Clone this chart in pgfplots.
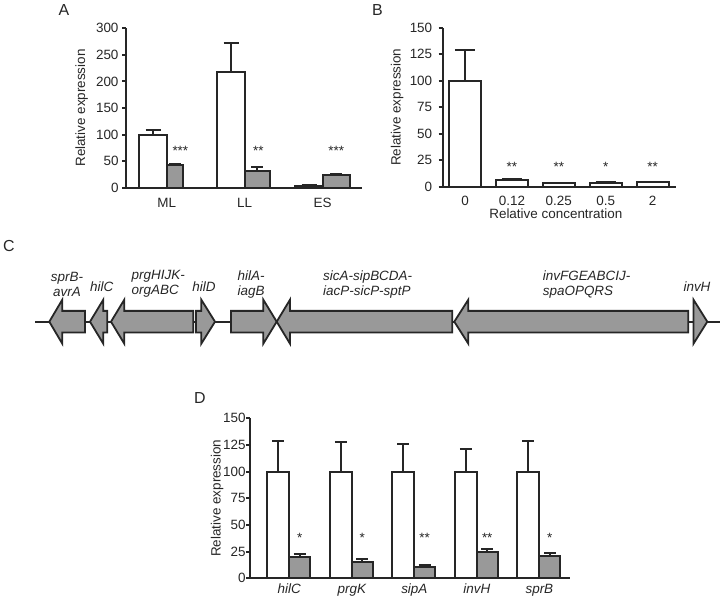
\documentclass[border=0pt]{standalone}
\usepackage{pgfplots}
\pgfplotsset{compat=1.18}
\usepackage{fontspec}
\setmainfont{Liberation Sans}
\definecolor{ink}{HTML}{262626}
\definecolor{barg}{HTML}{999999}
\newcommand{\lf}{\fontsize{13.5}{15}\selectfont}
\pgfplotsset{
  panel/.style={
    scale only axis,
    anchor=south west,
    axis lines=left,
    axis line style={-, ink, line width=1.9bp},
    tick align=outside,
    major tick length=4bp,
    ytick style={ink, line width=1.9bp},
    xtick style={draw=none},
    tick label style={font=\lf, text=ink},
    label style={font=\lf, text=ink},
    /pgf/number format/assume math mode=true,
    clip=false,
    ylabel={Relative expression},
  },
  wbar/.style={ybar, bar shift=0pt, fill=white, draw=ink, line width=1.9bp,
    error bars/y dir=plus, error bars/y explicit,
    error bars/error bar style={ink, line width=1.9bp},
    error bars/error mark options={rotate=90, ink, line width=1.9bp, mark size=#1}},
  gbar/.style={ybar, bar shift=0pt, fill=barg, draw=ink, line width=1.9bp,
    error bars/y dir=plus, error bars/y explicit,
    error bars/error bar style={ink, line width=1.9bp},
    error bars/error mark options={rotate=90, ink, line width=1.9bp, mark size=#1}},
  gene/.style={fill=barg, draw=ink, line width=1.8bp, line join=miter, mark=none},
}
\begin{document}
\begin{tikzpicture}[x=1bp,y=1bp]
\useasboundingbox (0,0) rectangle (720,600);

% ---------- Panel A ----------
\begin{axis}[panel, at={(126bp,412.3bp)}, width=236bp, height=159.4bp,
  xmin=-0.522, xmax=2.504, ymin=0, ymax=300,
  ytick={0,50,...,300}, xtick={0,1,2}, xticklabels={ML,LL,ES},
  xticklabel style={yshift=-3bp},
  ylabel style={at={(axis description cs:-0.188,0.5)}, anchor=center}]
\addplot[wbar=7.5bp, bar width=0.35] coordinates {(-0.175,100) +- (0,8.6) (0.825,218) +- (0,55) (1.825,3) +- (0,2)};
\addplot[gbar=6bp, bar width=0.214] coordinates {(0.107,42) +- (0,2)};
\addplot[gbar=6bp, bar width=0.32] coordinates {(1.16,32) +- (0,7)};
\addplot[gbar=6bp, bar width=0.35] coordinates {(2.175,24) +- (0,1.7)};
\node[font=\lf, text=ink] at (axis cs:0.175,70) {***};
\node[font=\lf, text=ink] at (axis cs:1.175,70) {**};
\node[font=\lf, text=ink] at (axis cs:2.175,70) {***};
\end{axis}

% ---------- Panel B ----------
\begin{axis}[panel, at={(442.7bp,413.3bp)}, width=233.3bp, height=159bp,
  xmin=-0.475, xmax=4.499, ymin=0, ymax=150,
  ytick={0,25,...,150}, xtick={0,1,2,3,4}, xticklabels={0,0.12,0.25,0.5,2},
  xticklabel style={yshift=-1.5bp},
  yticklabel style={xshift=-3bp},
  xlabel={Relative concentration},
  xlabel style={at={(axis description cs:0.485,-0.17)}, anchor=center},
  ylabel style={at={(axis description cs:-0.195,0.5)}, anchor=center}]
\addplot[wbar=10bp, bar width=0.684] coordinates {(0,100) +- (0,29) (1,6.3) +- (0,0.9) (2,3.5) +- (0,0.3) (3,3.8) +- (0,0.3) (4,4.1) +- (0,0.6)};
\node[font=\lf, text=ink] at (axis cs:1,19) {**};
\node[font=\lf, text=ink] at (axis cs:2,19) {**};
\node[font=\lf, text=ink] at (axis cs:3,19) {*};
\node[font=\lf, text=ink] at (axis cs:4,19) {**};
\end{axis}

% ---------- Panel C (gene map) ----------
\begin{axis}[scale only axis, anchor=south west, at={(0bp,228.3bp)}, width=720bp, height=100bp,
  xmin=0, xmax=720, ymin=-50, ymax=50, hide axis, clip=false]
\addplot[draw=ink, line width=1.8bp, mark=none] coordinates {(35,0) (720,0)};
\addplot[gene] coordinates {(49.3,0) (62.3,22) (62.3,10.8) (85,10.8) (85,-10.8) (62.3,-10.8) (62.3,-22)} -- cycle;
\addplot[gene] coordinates {(90,0) (103.3,22) (103.3,10.8) (107.3,10.8) (107.3,-10.8) (103.3,-10.8) (103.3,-22)} -- cycle;
\addplot[gene] coordinates {(111,0) (124.3,22) (124.3,10.8) (193.3,10.8) (193.3,-10.8) (124.3,-10.8) (124.3,-22)} -- cycle;
\addplot[gene] coordinates {(196,10.8) (201.3,10.8) (201.3,22) (215,0) (201.3,-22) (201.3,-10.8) (196,-10.8)} -- cycle;
\addplot[gene] coordinates {(231,10.8) (263.3,10.8) (263.3,22) (276.7,0) (263.3,-22) (263.3,-10.8) (231,-10.8)} -- cycle;
\addplot[gene] coordinates {(276.7,0) (290,22) (290,10.8) (452.3,10.8) (452.3,-10.8) (290,-10.8) (290,-22)} -- cycle;
\addplot[gene] coordinates {(454.3,0) (468.3,22) (468.3,10.8) (688.3,10.8) (688.3,-10.8) (468.3,-10.8) (468.3,-22)} -- cycle;
\addplot[gene] coordinates {(693.5,22) (707.3,0) (693.5,-22)} -- cycle;
\begin{scope}[every node/.style={font=\lf\itshape, text=ink, inner sep=0pt}]
\node[align=center] at (axis cs:67,37.5) {sprB-\\avrA};
\node at (axis cs:101.7,35) {hilC};
\node[align=left, anchor=west] at (axis cs:131.5,37.5) {prgHIJK-\\orgABC};
\node at (axis cs:204,35) {hilD};
\node[align=left, anchor=west] at (axis cs:237.5,37.5) {hilA-\\iagB};
\node[align=left, anchor=west] at (axis cs:323,37.5) {sicA-sipBCDA-\\iacP-sicP-sptP};
\node[align=left, anchor=west] at (axis cs:542.7,37.5) {invFGEABCIJ-\\spaOPQRS};
\node at (axis cs:697,35) {invH};
\end{scope}
\end{axis}

% ---------- Panel D ----------
\begin{axis}[panel, at={(250bp,21.7bp)}, width=320bp, height=160bp,
  xmin=-0.629, xmax=4.49, ymin=0, ymax=150,
  ytick={0,25,...,150}, xtick={0,1,2,3,4},
  xticklabels={hilC,prgK,sipA,invH,sprB},
  xticklabel style={font=\lf\itshape, yshift=2bp},
  yticklabel style={xshift=3bp},
  ylabel style={at={(axis description cs:-0.103,0.5)}, anchor=center}]
\addplot[wbar=6bp, bar width=0.352] coordinates {(-0.176,100) +- (0,28.4) (0.824,100) +- (0,27.5) (1.824,100) +- (0,25.6) (2.824,100) +- (0,21) (3.824,100) +- (0,28.4)};
\addplot[gbar=6bp, bar width=0.331] coordinates {(0.166,20) +- (0,3.1) (1.166,15.3) +- (0,2.5) (2.166,10.9) +- (0,1.3) (3.166,24.4) +- (0,2.8) (4.166,21) +- (0,2.8)};
\node[font=\lf, text=ink] at (axis cs:0.166,37.8) {*};
\node[font=\lf, text=ink] at (axis cs:1.166,37.8) {*};
\node[font=\lf, text=ink] at (axis cs:2.166,37.8) {**};
\node[font=\lf, text=ink] at (axis cs:3.166,37.8) {**};
\node[font=\lf, text=ink] at (axis cs:4.166,37.8) {*};
\end{axis}

% panel letters
\node[font=\fontsize{16}{18}\selectfont, text=ink] at (64,590) {A};
\node[font=\fontsize{16}{18}\selectfont, text=ink] at (377.5,590) {B};
\node[font=\fontsize{16}{18}\selectfont, text=ink] at (9,354.3) {C};
\node[font=\fontsize{16}{18}\selectfont, text=ink] at (200,202) {D};
\end{tikzpicture}
\end{document}
